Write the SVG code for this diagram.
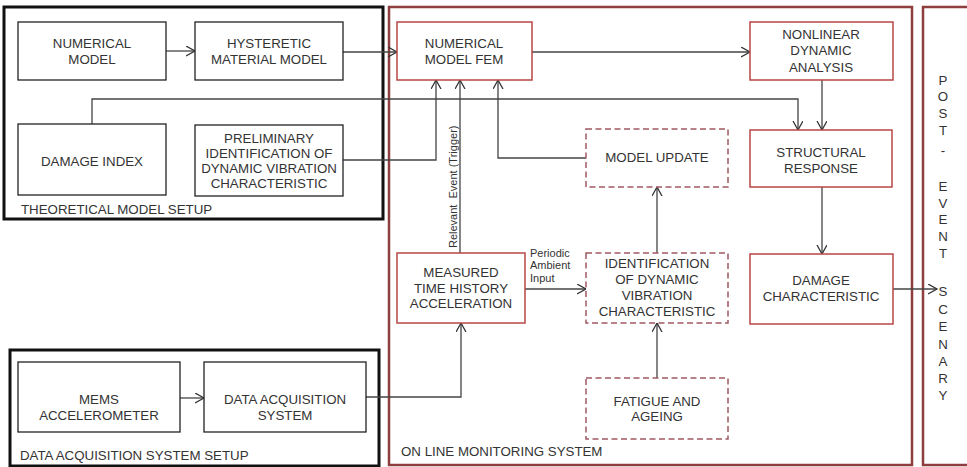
<svg xmlns="http://www.w3.org/2000/svg" width="967" height="467" viewBox="0 0 967 467">
<style>
text{font-family:"Liberation Sans",Arial,sans-serif;font-size:13.3px;fill:#333;}
.c{text-anchor:middle;}
.sm{font-size:11px;}
.frame{fill:none;stroke:#111;stroke-width:3;}
.rframe{fill:none;stroke:#8E3E3E;stroke-width:2.5;}
.bk{fill:#fff;stroke:#222;stroke-width:1.3;}
.rd{fill:#fff;stroke:#B84646;stroke-width:1.5;}
.ds{fill:#fff;stroke:#9E5A60;stroke-width:1.5;stroke-dasharray:6,3.5;}
.ln{fill:none;stroke:#444;stroke-width:1.3;}
</style>
<defs>
<marker id="ar" markerUnits="userSpaceOnUse" markerWidth="12" markerHeight="12" refX="9" refY="5" orient="auto">
<path d="M0,0 L9,5 L0,10" fill="none" stroke="#333" stroke-width="1.3"/>
</marker>
</defs>
<rect width="967" height="467" fill="#fff"/>

<g id="frames">
<rect class="frame" x="4" y="7" width="379" height="212"/>
<text x="21" y="214">THEORETICAL MODEL SETUP</text>
<rect class="frame" x="10" y="350" width="369" height="116"/>
<text x="20" y="460">DATA ACQUISITION SYSTEM SETUP</text>
<rect class="rframe" x="389" y="7" width="523" height="458"/>
<text x="401" y="456">ON LINE MONITORING SYSTEM</text>
<rect class="rframe" x="923" y="7" width="50" height="458"/>
</g>

<g id="post-event">
<text class="c" x="943" y="85">P</text>
<text class="c" x="943" y="101">O</text>
<text class="c" x="943" y="118">S</text>
<text class="c" x="943" y="135">T</text>
<text class="c" x="943" y="155">-</text>
<text class="c" x="943" y="191">E</text>
<text class="c" x="943" y="208">V</text>
<text class="c" x="943" y="224">E</text>
<text class="c" x="943" y="241">N</text>
<text class="c" x="943" y="258">T</text>
<text class="c" x="943" y="296">S</text>
<text class="c" x="943" y="314">C</text>
<text class="c" x="943" y="331">E</text>
<text class="c" x="943" y="349">N</text>
<text class="c" x="943" y="366">A</text>
<text class="c" x="943" y="383">R</text>
<text class="c" x="943" y="400">Y</text>
</g>

<g id="connectors">
<path class="ln" d="M166,51 H195" marker-end="url(#ar)"/>
<path class="ln" d="M343,52 H397" marker-end="url(#ar)"/>
<path class="ln" d="M532,52 H750" marker-end="url(#ar)"/>
<path class="ln" d="M92,124 V99 H798 V130" marker-end="url(#ar)"/>
<path class="ln" d="M343,160 H436 V80" marker-end="url(#ar)"/>
<path class="ln" d="M460,253 V80" marker-end="url(#ar)"/>
<path class="ln" d="M586,158 H498 V80" marker-end="url(#ar)"/>
<path class="ln" d="M822,80 V130" marker-end="url(#ar)"/>
<path class="ln" d="M822,187 V254" marker-end="url(#ar)"/>
<path class="ln" d="M893,289 H937" marker-end="url(#ar)"/>
<path class="ln" d="M525,289 H586" marker-end="url(#ar)"/>
<path class="ln" d="M657,253 V187" marker-end="url(#ar)"/>
<path class="ln" d="M657,378 V323" marker-end="url(#ar)"/>
<path class="ln" d="M180,398 H204" marker-end="url(#ar)"/>
<path class="ln" d="M366,397 H461 V323" marker-end="url(#ar)"/>
<text class="sm" transform="translate(457,248) rotate(-90)" xml:space="preserve">Relevant  Event (Trigger)</text>
<text class="sm" x="530" y="257">Periodic</text>
<text class="sm" x="530" y="269">Ambient</text>
<text class="sm" x="530" y="282">Input</text>
</g>

<g id="numerical-model">
<rect class="bk" x="18" y="22" width="148" height="58"/>
<text class="c" x="92" y="47.5">NUMERICAL</text>
<text class="c" x="92" y="63.5">MODEL</text>
</g>
<g id="hysteretic">
<rect class="bk" x="195" y="22" width="148" height="58"/>
<text class="c" x="269" y="47.5">HYSTERETIC</text>
<text class="c" x="269" y="63.5">MATERIAL MODEL</text>
</g>
<g id="damage-index">
<rect class="bk" x="18" y="124" width="148" height="71"/>
<text class="c" x="92" y="165.5">DAMAGE INDEX</text>
</g>
<g id="preliminary">
<rect class="bk" x="195" y="125" width="148" height="71"/>
<text class="c" x="269" y="142.5">PRELIMINARY</text>
<text class="c" x="269" y="158">IDENTIFICATION OF</text>
<text class="c" x="269" y="173">DYNAMIC VIBRATION</text>
<text class="c" x="269" y="188">CHARACTERISTIC</text>
</g>
<g id="mems">
<rect class="bk" x="18" y="362" width="162" height="70"/>
<text class="c" x="99" y="403.5">MEMS</text>
<text class="c" x="99" y="419.5">ACCELEROMETER</text>
</g>
<g id="das">
<rect class="bk" x="204" y="362" width="162" height="70"/>
<text class="c" x="285" y="403.5">DATA ACQUISITION</text>
<text class="c" x="285" y="419.5">SYSTEM</text>
</g>

<g id="fem">
<rect class="rd" x="397" y="22" width="135" height="58"/>
<text class="c" x="464" y="47.5">NUMERICAL</text>
<text class="c" x="464" y="63.5">MODEL FEM</text>
</g>
<g id="nonlinear">
<rect class="rd" x="750" y="22" width="143" height="58"/>
<text class="c" x="821" y="38.5">NONLINEAR</text>
<text class="c" x="821" y="55">DYNAMIC</text>
<text class="c" x="821" y="71.5">ANALYSIS</text>
</g>
<g id="model-update">
<rect class="ds" x="586" y="129" width="142" height="58"/>
<text class="c" x="657" y="161.5">MODEL UPDATE</text>
</g>
<g id="structural-response">
<rect class="rd" x="750" y="130" width="142" height="57"/>
<text class="c" x="821" y="156.5">STRUCTURAL</text>
<text class="c" x="821" y="172.5">RESPONSE</text>
</g>
<g id="measured">
<rect class="rd" x="397" y="253" width="128" height="70"/>
<text class="c" x="461" y="276.5">MEASURED</text>
<text class="c" x="461" y="292.5">TIME HISTORY</text>
<text class="c" x="461" y="308">ACCELERATION</text>
</g>
<g id="identification">
<rect class="ds" x="586" y="253" width="142" height="70"/>
<text class="c" x="657" y="267.5">IDENTIFICATION</text>
<text class="c" x="657" y="283.5">OF DYNAMIC</text>
<text class="c" x="657" y="299.5">VIBRATION</text>
<text class="c" x="657" y="316">CHARACTERISTIC</text>
</g>
<g id="damage-characteristic">
<rect class="rd" x="750" y="254" width="143" height="70"/>
<text class="c" x="821" y="284.5">DAMAGE</text>
<text class="c" x="821" y="300.5">CHARACTERISTIC</text>
</g>
<g id="fatigue">
<rect class="ds" x="586" y="378" width="142" height="61"/>
<text class="c" x="657" y="405.5">FATIGUE AND</text>
<text class="c" x="657" y="420.5">AGEING</text>
</g>
</svg>
